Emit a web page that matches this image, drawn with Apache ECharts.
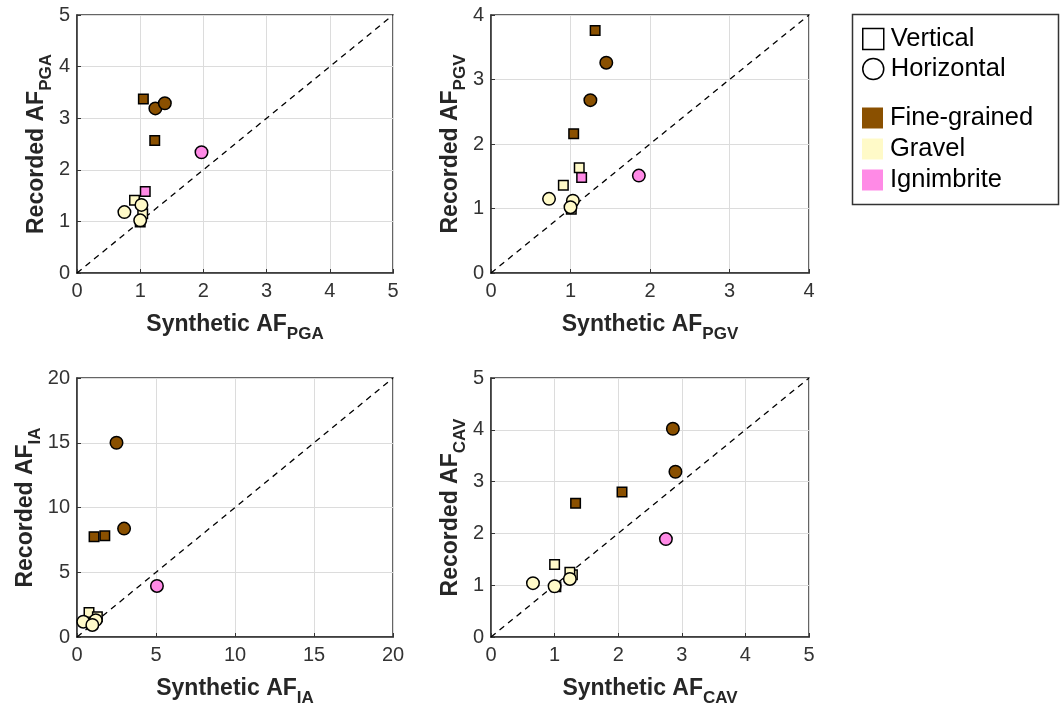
<!DOCTYPE html>
<html>
<head>
<meta charset="utf-8">
<script src="https://cdn.jsdelivr.net/npm/echarts@6/dist/echarts.min.js"></script>
<style>
  html, body { margin: 0; background: #fff; }
  #chart { width: 1064px; height: 710px; }
</style>
</head>
<body>
<div id="chart"></div>
<script>
// values: [synthetic, recorded]
// PGA
const pgaFineV = [[1.05, 3.37], [1.23, 2.57]];
const pgaFineH = [[1.24, 3.19], [1.39, 3.29]];
const pgaGravelV = [[0.91, 1.41], [1.04, 1.15], [1.0, 0.99]];
const pgaGravelH = [[1.02, 1.32], [0.75, 1.18], [1.0, 1.02]];
const pgaIgnV = [[1.08, 1.58]];
const pgaIgnH = [[1.97, 2.34]];
// PGV
const pgvFineV = [[1.31, 3.76], [1.04, 2.16]];
const pgvFineH = [[1.45, 3.26], [1.25, 2.68]];
const pgvGravelV = [[1.11, 1.63], [0.91, 1.36], [1.01, 0.99]];
const pgvGravelH = [[0.73, 1.15], [1.03, 1.12], [1.0, 1.02]];
const pgvIgnV = [[1.14, 1.48]];
const pgvIgnH = [[1.86, 1.51]];
// IA
const iaFineV = [[1.08, 7.75], [1.76, 7.82]];
const iaFineH = [[2.5, 15.0], [2.98, 8.37]];
const iaGravelV = [[0.76, 1.9], [1.29, 1.57], [0.95, 1.0]];
const iaGravelH = [[0.4, 1.18], [1.19, 1.3], [0.97, 0.93]];
const iaIgnV = [];
const iaIgnH = [[5.06, 3.94]];
// CAV
const cavFineV = [[2.06, 2.8], [1.33, 2.58]];
const cavFineH = [[2.86, 4.02], [2.9, 3.19]];
const cavGravelV = [[1.0, 1.4], [1.28, 1.2], [1.24, 1.25], [1.02, 0.97]];
const cavGravelH = [[1.24, 1.12], [0.66, 1.04], [1.0, 0.98]];
const cavIgnV = [];
const cavIgnH = [[2.75, 1.89]];

const axisMax = [5, 4, 20, 5];
const axisStep = [1, 1, 5, 1];
const measures = ['PGA', 'PGV', 'IA', 'CAV'];

const colFine = '#8a5000';
const colGravel = '#fffac8';
const colIgn = '#ff8ae6';
const font = 'Liberation Sans, Arial, sans-serif';

const panelData = [
  [pgaFineV, pgaFineH, pgaGravelV, pgaGravelH, pgaIgnV, pgaIgnH],
  [pgvFineV, pgvFineH, pgvGravelV, pgvGravelH, pgvIgnV, pgvIgnH],
  [iaFineV, iaFineH, iaGravelV, iaGravelH, iaIgnV, iaIgnH],
  [cavFineV, cavFineH, cavGravelV, cavGravelH, cavIgnV, cavIgnH]
];
const panelCols = [colFine, colFine, colGravel, colGravel, colIgn, colIgn];

const grids = [
  { left: 77, top: 15, width: 316, height: 258 },
  { left: 491, top: 15, width: 318, height: 258 },
  { left: 77, top: 378, width: 316, height: 259 },
  { left: 491, top: 378, width: 318, height: 259 }
];

const titleRich = {
  m: { fontSize: 23, fontWeight: 'bold', color: '#262626', fontFamily: font },
  s: { fontSize: 17, fontWeight: 'bold', color: '#262626', fontFamily: font, padding: [19, 0, 0, 0] }
};

function makeAxis(i, isX) {
  return {
    type: 'value',
    gridIndex: i,
    min: 0,
    max: axisMax[i],
    interval: axisStep[i],
    name: (isX ? '{m|Synthetic AF}' : '{m|Recorded AF}') + '{s|' + measures[i] + '}',
    nameLocation: 'middle',
    nameGap: isX ? 34 : 21,
    nameTextStyle: { rich: titleRich },
    axisLine: { show: true, onZero: false, lineStyle: { color: '#333', width: 1.5 } },
    axisTick: { show: true, inside: true, length: 4, lineStyle: { color: '#333', width: 1 } },
    axisLabel: { color: '#333', fontSize: 20, fontFamily: font, margin: isX ? 8 : 7 },
    splitLine: { show: true, lineStyle: { color: '#dcdcdc', width: 1 } }
  };
}

const series = [];
panelData.forEach((sets, i) => {
  series.push({
    type: 'line',
    xAxisIndex: i,
    yAxisIndex: i,
    data: [[0, 0], [axisMax[i], axisMax[i]]],
    symbol: 'none',
    silent: true,
    lineStyle: { color: '#000', width: 1.3, type: [6, 5] },
    z: 1
  });
  sets.forEach((pts, k) => {
    const square = k % 2 === 0;
    series.push({
      type: 'scatter',
      xAxisIndex: i,
      yAxisIndex: i,
      data: pts,
      symbol: square ? 'rect' : 'circle',
      symbolSize: square ? 9.5 : 12.5,
      itemStyle: { color: panelCols[k], borderColor: '#000', borderWidth: 1.5, opacity: 1 },
      z: 3
    });
  });
});

// dummy series so the legends have entries
const legendItems = [
  { name: 'Vertical', icon: 'rect', itemStyle: { color: '#fff', borderColor: '#000', borderWidth: 1.5, opacity: 1 } },
  { name: 'Horizontal', icon: 'circle', itemStyle: { color: '#fff', borderColor: '#000', borderWidth: 1.5, opacity: 1 } },
  { name: 'Fine-grained', icon: 'rect', itemStyle: { color: colFine, borderWidth: 0, opacity: 1 } },
  { name: 'Gravel', icon: 'rect', itemStyle: { color: colGravel, borderWidth: 0, opacity: 1 } },
  { name: 'Ignimbrite', icon: 'rect', itemStyle: { color: colIgn, borderWidth: 0, opacity: 1 } }
];
legendItems.forEach(it => {
  series.push({
    type: 'scatter', name: it.name, xAxisIndex: 0, yAxisIndex: 0, data: [],
    itemStyle: { opacity: 1 }
  });
});

const legendBase = {
  orient: 'vertical',
  left: 857,
  itemWidth: 21,
  itemHeight: 21,
  itemGap: 4,
  selectedMode: false,
  textStyle: { fontSize: 25.5, lineHeight: 26, color: '#000', fontFamily: font, padding: [0, 0, 0, 2] }
};

const option = {
  animation: false,
  backgroundColor: '#fff',
  grid: grids.map(g => Object.assign({ show: true, borderColor: '#333', borderWidth: 1.5, containLabel: false }, g)),
  xAxis: [0, 1, 2, 3].map(i => makeAxis(i, true)),
  yAxis: [0, 1, 2, 3].map(i => makeAxis(i, false)),
  legend: [
    Object.assign({}, legendBase, { top: 21, data: legendItems.slice(0, 2) }),
    Object.assign({}, legendBase, { top: 100, itemGap: 5, data: legendItems.slice(2) })
  ],
  graphic: [{
    type: 'rect',
    shape: { x: 852.5, y: 14.5, width: 206, height: 190 },
    style: { fill: 'none', stroke: '#333', lineWidth: 1.5 },
    silent: true
  }],
  series: series
};

const chart = echarts.init(document.getElementById('chart'));
chart.setOption(option);
</script>
</body>
</html>
